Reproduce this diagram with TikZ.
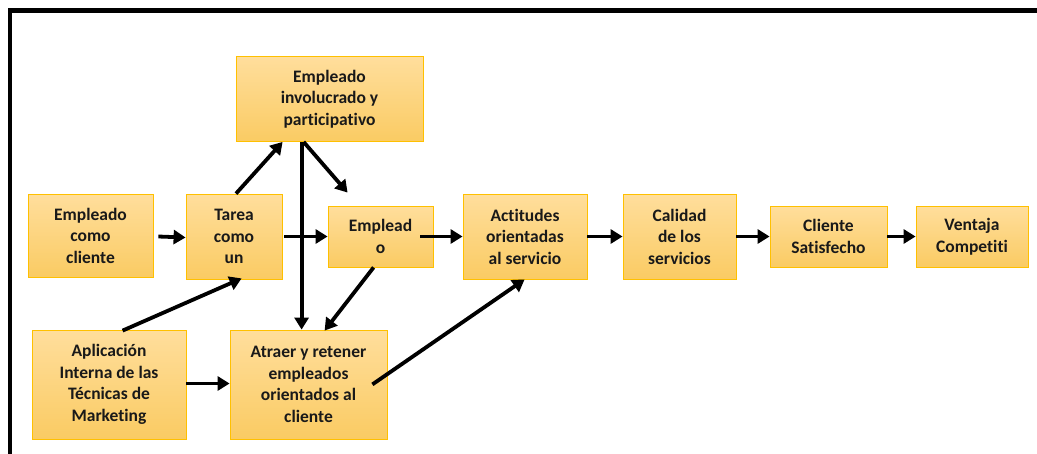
\documentclass[tikz,border=0pt]{standalone}
\usepackage{fontspec}
\setmainfont[Ligatures=NoCommon]{Carlito}
\usetikzlibrary{calc,arrows.meta}
\definecolor{boxtop}{HTML}{FFDE9C}
\definecolor{boxbot}{HTML}{FACB63}
\definecolor{boxline}{HTML}{FFC000}
\tikzset{
  box/.style={rectangle, draw=boxline, line width=0.8pt, top color=boxtop, bottom color=boxbot,
    align=center, inner sep=2pt, text=black!90, font=\bfseries\fontsize{17.5pt}{21.5pt}\selectfont},
  arr/.style={line width=3.8pt, -{Triangle[length=12pt,width=14pt]}}
}
\begin{document}
\begin{tikzpicture}[x=1pt,y=-1pt]
\useasboundingbox (0,0) rectangle (1037,453);
\clip (0,0) rectangle (1037,453);
\draw[line width=4.5pt] (10,10.5) rectangle (1100,600);
\node[box, minimum width=187pt, minimum height=85pt] (inv) at (329.5,99) {Empleado\\involucrado y\\participativo};
\node[box, minimum width=125pt, minimum height=83pt] (ecc) at (90.5,235.5) {Empleado\\como\\cliente};
\node[box, minimum width=96pt, minimum height=85pt] (tar) at (234,236.5) {Tarea\\como\\un};
\node[box, minimum width=105pt, minimum height=61pt] (emp) at (380.5,236.5) {Emplead\\o};
\node[box, minimum width=124pt, minimum height=85pt] (act) at (525,236.5) {Actitudes\\orientadas\\al servicio};
\node[box, minimum width=113pt, minimum height=85pt] (cal) at (679.5,236.5) {Calidad\\de los\\servicios};
\node[box, minimum width=117pt, minimum height=61pt] (cs) at (828.5,236.5) {Cliente\\Satisfecho};
\node[box, minimum width=112pt, minimum height=61pt] (ven) at (972,236.5) {Ventaja\\Competiti};
\node[box, minimum width=154pt, minimum height=109pt] (apl) at (109,384.5) {Aplicación\\Interna de las\\Técnicas de\\Marketing};
\node[box, minimum width=157pt, minimum height=109pt] (atr) at (308.5,384.5) {Atraer y retener\\empleados\\orientados al\\cliente};
% connectors
\draw[arr] ($(ecc.east)+(5,1)$) -- ($(tar.west)+(0,1)$);
\draw[arr] ($(tar.east)+(2,0)$) -- (emp.west);
\draw[arr] ($(tar.north)+(2,0)$) -- ($(inv.south west)+(47,0)$);
\draw[arr] ($(inv.south west)+(66,0)$) -- ($(atr.north west)+(72,0)$);
\draw[arr] ($(inv.south west)+(68,0)$) -- ($(emp.north west)+(20,-13)$);
\draw[arr] ($(emp.south west)+(46,0)$) -- ($(atr.north west)+(95,1)$);
\draw[arr] ($(apl.north west)+(91,1)$) -- ($(tar.south west)+(56,-1)$);
\draw[arr] ($(apl.east)+(0,-1)$) -- ($(atr.west)+(0,-1)$);
\draw[arr] ($(atr.south east)+(-15,-55)$) -- ($(act.south west)+(62,0)$);
\draw[arr] ($(emp.east)+(-13,0)$) -- (act.west);
\draw[arr] (act.east) -- (cal.west);
\draw[arr] (cal.east) -- (cs.west);
\draw[arr] (cs.east) -- (ven.west);
\end{tikzpicture}
\end{document}
